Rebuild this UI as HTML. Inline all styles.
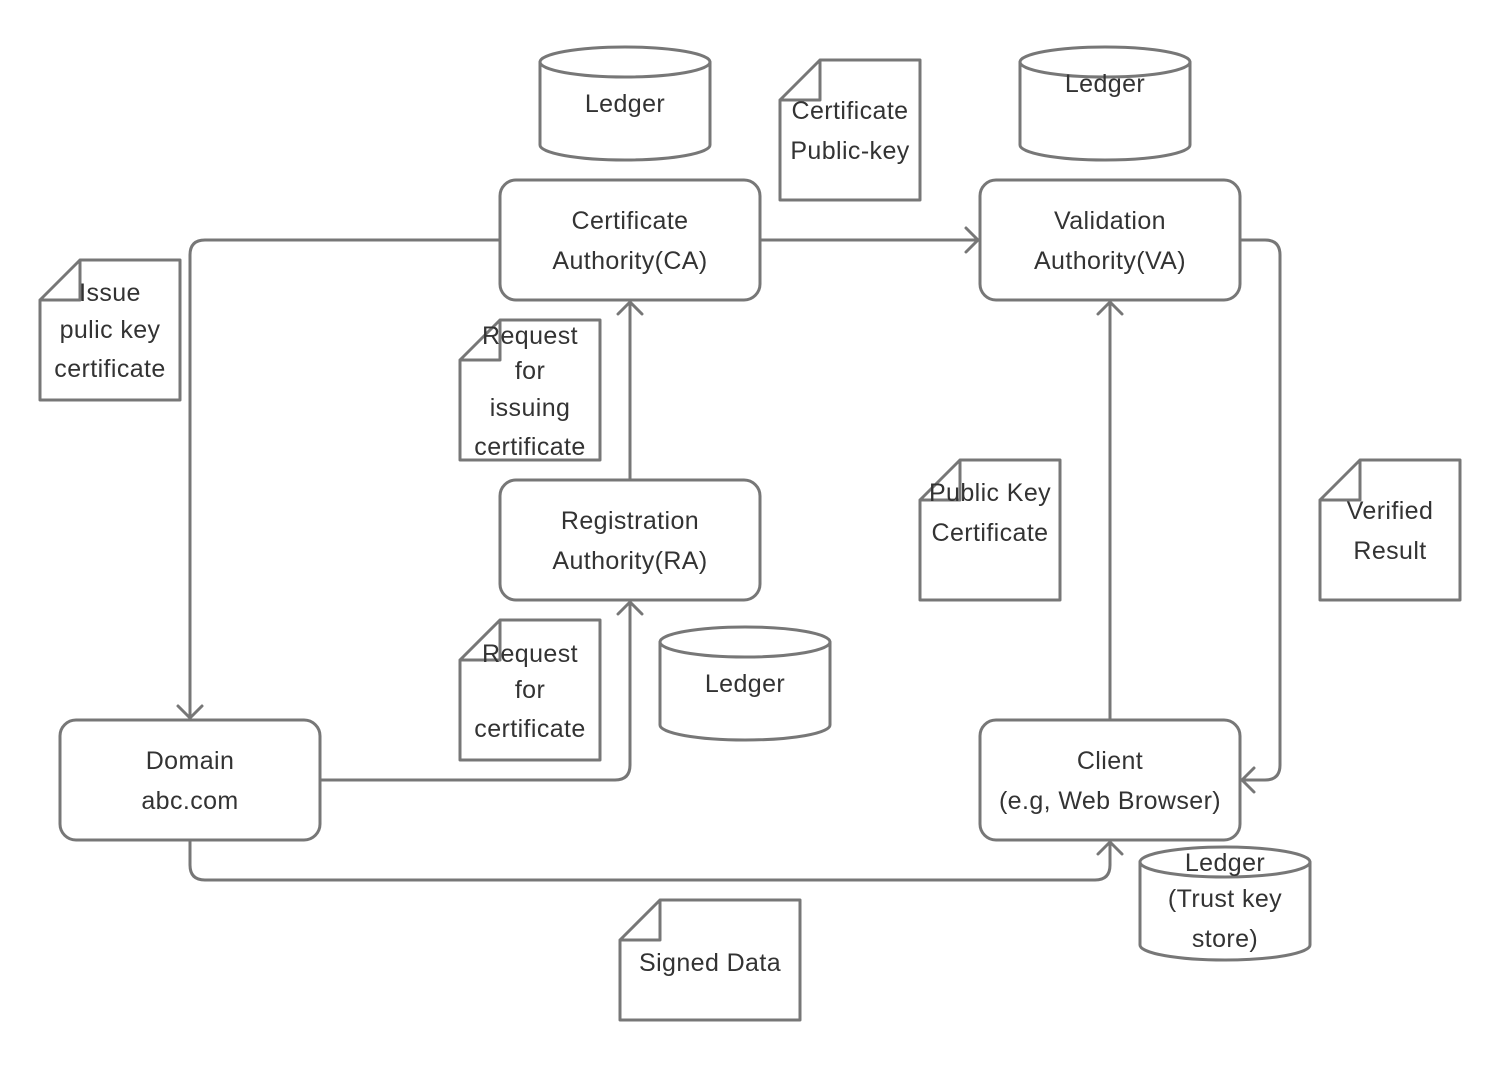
<!DOCTYPE html>
<html><head><meta charset="utf-8"><style>html,body{margin:0;padding:0;background:#fff}</style></head>
<body>
<svg width="1500" height="1060" viewBox="0 0 1500 1060" xmlns="http://www.w3.org/2000/svg">
<g fill="none" stroke="#777" stroke-width="3" stroke-linejoin="round" stroke-linecap="round">
<path d="M500 240 H205 Q190 240 190 255 V718"/>
<path d="M178 706 L190 718 L202 706"/>
<path d="M760 240 H978"/>
<path d="M966 228 L978 240 L966 252"/>
<path d="M630 480 V302"/>
<path d="M618 314 L630 302 L642 314"/>
<path d="M320 780 H615 Q630 780 630 765 V602"/>
<path d="M618 614 L630 602 L642 614"/>
<path d="M1110 720 V302"/>
<path d="M1098 314 L1110 302 L1122 314"/>
<path d="M1240 240 H1265 Q1280 240 1280 255 V765 Q1280 780 1265 780 H1242"/>
<path d="M1254 768 L1242 780 L1254 792"/>
<path d="M190 840 V865 Q190 880 205 880 H1095 Q1110 880 1110 865 V842"/>
<path d="M1098 854 L1110 842 L1122 854"/>
<rect x="500" y="180" width="260" height="120" rx="16" fill="#fff"/>
<rect x="980" y="180" width="260" height="120" rx="16" fill="#fff"/>
<rect x="500" y="480" width="260" height="120" rx="16" fill="#fff"/>
<rect x="60" y="720" width="260" height="120" rx="16" fill="#fff"/>
<rect x="980" y="720" width="260" height="120" rx="16" fill="#fff"/>
<path d="M820 60 H920 V200 H780 V100 Z M780 100 H820 V60" fill="#fff"/>
<path d="M80 260 H180 V400 H40 V300 Z M40 300 H80 V260" fill="#fff"/>
<path d="M500 320 H600 V460 H460 V360 Z M460 360 H500 V320" fill="#fff"/>
<path d="M960 460 H1060 V600 H920 V500 Z M920 500 H960 V460" fill="#fff"/>
<path d="M1360 460 H1460 V600 H1320 V500 Z M1320 500 H1360 V460" fill="#fff"/>
<path d="M500 620 H600 V760 H460 V660 Z M460 660 H500 V620" fill="#fff"/>
<path d="M660 900 H800 V1020 H620 V940 Z M620 940 H660 V900" fill="#fff"/>
<g fill="#fff">
<path d="M540 62 V145 A85 15 0 0 0 710 145 V62"/><ellipse cx="625" cy="62" rx="85" ry="15"/>
<path d="M1020 62 V145 A85 15 0 0 0 1190 145 V62"/><ellipse cx="1105" cy="62" rx="85" ry="15"/>
<path d="M660 642 V725 A85 15 0 0 0 830 725 V642"/><ellipse cx="745" cy="642" rx="85" ry="15"/>
<path d="M1140 862 V945 A85 15 0 0 0 1310 945 V862"/><ellipse cx="1225" cy="862" rx="85" ry="15"/>
</g>
</g>
<g font-family="Liberation Sans, sans-serif" font-size="25" letter-spacing="0.4" fill="#333" text-anchor="middle">
<text x="625" y="112">Ledger</text>
<text x="1105" y="92">Ledger</text>
<text x="745" y="692">Ledger</text>
<text x="1225" y="871">Ledger</text><text x="1225" y="907">(Trust key</text><text x="1225" y="947">store)</text>
<text x="850" y="119">Certificate</text><text x="850" y="159">Public-key</text>
<text x="630" y="229">Certificate</text><text x="630" y="269">Authority(CA)</text>
<text x="1110" y="229">Validation</text><text x="1110" y="269">Authority(VA)</text>
<text x="110" y="301">Issue</text><text x="110" y="338">pulic key</text><text x="110" y="377">certificate</text>
<text x="530" y="344">Request</text><text x="530" y="379">for</text><text x="530" y="416">issuing</text><text x="530" y="455">certificate</text>
<text x="630" y="529">Registration</text><text x="630" y="569">Authority(RA)</text>
<text x="990" y="501">Public Key</text><text x="990" y="541">Certificate</text>
<text x="1390" y="519">Verified</text><text x="1390" y="559">Result</text>
<text x="530" y="662">Request</text><text x="530" y="698">for</text><text x="530" y="737">certificate</text>
<text x="190" y="769">Domain</text><text x="190" y="809">abc.com</text>
<text x="1110" y="769">Client</text><text x="1110" y="809">(e.g, Web Browser)</text>
<text x="710" y="971">Signed Data</text>
</g>
</svg>
</body></html>
